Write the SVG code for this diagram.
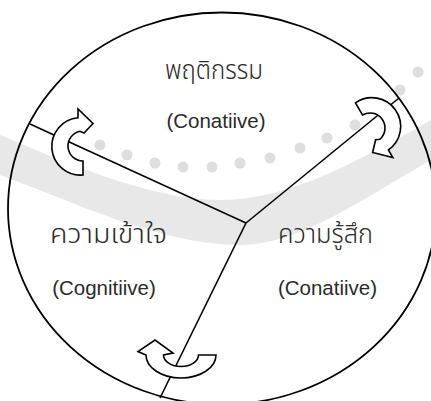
<svg xmlns="http://www.w3.org/2000/svg" width="431" height="401" viewBox="0 0 431 401">
<style>
.wm{fill:#e8e8e8;stroke:none}
.dot{fill:#dedede;stroke:none}
.ln{stroke:#000;stroke-width:1.6;fill:none}
.arr{fill:#fff;stroke:#000;stroke-width:1.6;stroke-linejoin:miter}
.th{font-family:"Noto Sans Thai","Noto Sans Thai Looped",Tahoma,"Noto Sans",sans-serif;font-size:26px;font-weight:300;fill:#2b2b2b;text-anchor:middle}
.en{font-family:"Liberation Sans",Arial,sans-serif;font-size:20.5px;fill:#2b2b2b;text-anchor:middle}
</style>
<rect width="431" height="401" fill="#fff"/>
<g id="watermark">
<path class="wm" d="M0,135 C60,160 150,200 220,200 C290,200 360,160 431,120 L431,160 C360,200 300,245 240,245 C160,245 70,200 0,175 Z"/>
<g class="dot">
<circle cx="100" cy="145" r="5.5"/><circle cx="127" cy="155" r="5.5"/><circle cx="155" cy="163" r="5.5"/><circle cx="183" cy="167" r="5.5"/><circle cx="212" cy="167" r="5.5"/><circle cx="240" cy="163" r="5.5"/><circle cx="270" cy="158" r="5.5"/><circle cx="300" cy="148" r="5.5"/><circle cx="327" cy="138" r="5.5"/><circle cx="355" cy="125" r="5.5"/><circle cx="400" cy="90" r="5.5"/><circle cx="418" cy="72" r="5.5"/>
</g>
</g>
<g id="connectors">
<line class="ln" x1="246" y1="223" x2="30" y2="124"/>
<line class="ln" x1="246" y1="223" x2="399" y2="98"/>
<line class="ln" x1="246" y1="223" x2="160" y2="398"/>
</g>
<g id="cycle-circle">
<ellipse cx="222" cy="208.5" rx="214" ry="196" fill="none" stroke="#000" stroke-width="1.8"/>
</g>
<g id="arrow-left">
<path class="arr" transform="translate(83,146)" d="M0,29 A28.5,28.5 0 0 1 -5,-28.2 L-5,-37 L10,-22.5 L1,-13 L-3,-14.7 A15,15 0 0 0 0,15 Z"/>
</g>
<g id="arrow-right">
<path class="arr" transform="translate(370,128) rotate(150)" d="M0,29 A28.5,28.5 0 0 1 -5,-28.2 L-5,-37 L10,-22.5 L1,-13 L-3,-14.7 A15,15 0 0 0 0,15 Z"/>
</g>
<g id="arrow-bottom">
<path class="arr" d="M216,355 A35,23 0 0 1 146,355 L138,351.5 L155,340 L173,353 L163.5,355 A17.5,11.5 0 0 0 198.5,355 Z"/>
</g>
<g id="node-behavior">
<text class="th" x="214" y="79" textLength="98" lengthAdjust="spacingAndGlyphs">พฤติกรรม</text>
<text class="en" x="216" y="128">(Conatiive)</text>
</g>
<g id="node-cognitive">
<text class="th" x="108.5" y="243" textLength="117" lengthAdjust="spacingAndGlyphs">ความเข้าใจ</text>
<text class="en" x="104" y="295">(Cognitiive)</text>
</g>
<g id="node-affective">
<text class="th" x="325.5" y="243" textLength="95" lengthAdjust="spacingAndGlyphs">ความรู้สึก</text>
<text class="en" x="327.5" y="295">(Conatiive)</text>
</g>
</svg>
